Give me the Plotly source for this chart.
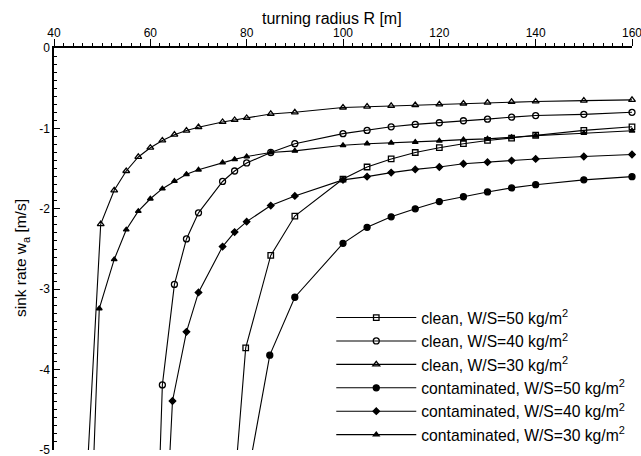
import plotly.graph_objects as go

# turning radius R [m] and sink rate w_a [m/s]
# (first point of each lower branch lies below -5 and is clipped by the axis)
R_clean50 = [75, 79.8, 85, 90, 100, 105, 110, 115, 120, 125, 130, 135, 140, 150, 160]
w_clean50 = [-7.3, -3.73, -2.58, -2.09, -1.63, -1.48, -1.38, -1.30, -1.24, -1.19, -1.15, -1.12, -1.085, -1.025, -0.98]

R_clean40 = [61.5, 62.5, 65, 67.5, 70, 75, 77.5, 80, 85, 90, 100, 105, 110, 115, 120, 125, 130, 135, 140, 150, 160]
w_clean40 = [-6.0, -4.19, -2.94, -2.375, -2.05, -1.66, -1.53, -1.43, -1.30, -1.19, -1.065, -1.025, -0.98, -0.95,
             -0.93, -0.905, -0.885, -0.86, -0.84, -0.825, -0.80]

R_clean30 = [45, 49.7, 52.5, 55, 57.5, 60, 62.5, 65, 67.5, 70, 75, 77.5, 80, 85, 90, 100, 105, 110, 115, 120,
             125, 130, 135, 140, 150, 160]
w_clean30 = [-7.36, -2.19, -1.77, -1.53, -1.355, -1.24, -1.15, -1.078, -1.027, -0.985, -0.92, -0.895, -0.87,
             -0.82, -0.80, -0.74, -0.73, -0.72, -0.71, -0.70, -0.69, -0.68, -0.67, -0.665, -0.655, -0.645]

R_cont50 = [80, 84.8, 90, 100, 105, 110, 115, 120, 125, 130, 135, 140, 150, 160]
w_cont50 = [-5.4, -3.82, -3.10, -2.43, -2.23, -2.10, -2.00, -1.91, -1.85, -1.79, -1.74, -1.70, -1.64, -1.60]

R_cont40 = [62.5, 64.6, 67.5, 70, 75, 77.5, 80, 85, 90, 100, 105, 110, 115, 120, 125, 130, 135, 140, 150, 160]
w_cont40 = [-6.9, -4.39, -3.53, -3.04, -2.47, -2.29, -2.16, -1.96, -1.84, -1.64, -1.60, -1.55, -1.51, -1.48,
            -1.44, -1.42, -1.40, -1.38, -1.35, -1.325]

R_cont30 = [47.5, 49.4, 52.5, 55, 57.5, 60, 62.5, 65, 67.5, 70, 75, 77.5, 80, 85, 90, 100, 105, 110, 115, 120,
            125, 130, 135, 140, 150, 160]
w_cont30 = [-6.3, -3.24, -2.63, -2.26, -2.03, -1.875, -1.75, -1.655, -1.57, -1.515, -1.425, -1.385, -1.35,
            -1.30, -1.28, -1.21, -1.19, -1.18, -1.17, -1.155, -1.14, -1.13, -1.11, -1.09, -1.06, -1.03]

labels = ["clean, W/S=50 kg/m<sup>2</sup>", "clean, W/S=40 kg/m<sup>2</sup>", "clean, W/S=30 kg/m<sup>2</sup>",
          "contaminated, W/S=50 kg/m<sup>2</sup>", "contaminated, W/S=40 kg/m<sup>2</sup>",
          "contaminated, W/S=30 kg/m<sup>2</sup>"]

x_title = "turning radius R [m]"
y_title = "sink rate w<sub>a</sub> [m/s]"
x_ticks = [40, 60, 80, 100, 120, 140, 160]
y_ticks = [0, -1, -2, -3, -4, -5]
y_ticktext = ["0", "-1", "-2", "-3", "-4", "-5"]

series = [
    (R_clean50, w_clean50, "square-open", 5.5),
    (R_clean40, w_clean40, "circle-open", 6),
    (R_clean30, w_clean30, "triangle-up-open", 6),
    (R_cont50, w_cont50, "circle", 6),
    (R_cont40, w_cont40, "diamond", 5),
    (R_cont30, w_cont30, "triangle-up", 5),
]

FONT = "Liberation Sans, Arial, sans-serif"

fig = go.Figure()
for (xs, ys, sym, sz), name in zip(series, labels):
    fig.add_trace(go.Scatter(
        x=xs, y=ys, name=name, mode="lines+markers",
        line=dict(color="black", width=1.1),
        marker=dict(symbol=sym, size=sz, color="black", line=dict(color="black", width=1.3)),
        cliponaxis=False,
    ))

fig.update_layout(
    width=641, height=456,
    margin=dict(l=54, r=9, t=48, b=6, autoexpand=False),
    paper_bgcolor="white", plot_bgcolor="white",
    font=dict(family=FONT, color="black", size=12),
    showlegend=True,
    legend=dict(x=0.4797, y=0.371, xanchor="left", yanchor="top",
                bgcolor="rgba(0,0,0,0)", font=dict(size=15.7), itemwidth=80,
                tracegroupgap=0),
    xaxis=dict(
        side="top", range=[40, 160], tickvals=x_ticks, showgrid=False, zeroline=False,
        showline=True, linecolor="black", linewidth=1.5, automargin=False,
        ticks="outside", ticklen=7, tickwidth=1.2, tickcolor="black",
        tickfont=dict(size=12), ticklabeloverflow="allow", ticklabelstandoff=-3,
        minor=dict(dtick=2, ticks="outside", ticklen=3, tickwidth=1, tickcolor="black"),
    ),
    yaxis=dict(
        range=[-5, 0], tickvals=y_ticks, ticktext=y_ticktext, showgrid=False, zeroline=False,
        showline=True, linecolor="black", linewidth=1.5, automargin=False,
        ticks="inside", ticklen=6, tickwidth=1.2, tickcolor="black",
        tickfont=dict(size=12), ticklabeloverflow="allow",
        minor=dict(dtick=0.1, ticks="inside", ticklen=3, tickwidth=1, tickcolor="black"),
    ),
    annotations=[
        dict(text=x_title, xref="paper", yref="paper", x=0.481, y=1.0746,
             xanchor="center", yanchor="middle", showarrow=False, font=dict(size=16)),
        dict(text=y_title, xref="paper", yref="paper", x=-0.055, y=0.478, textangle=-90,
             xanchor="center", yanchor="middle", showarrow=False, font=dict(size=15.5)),
    ],
)

fig.write_html("out.html")
